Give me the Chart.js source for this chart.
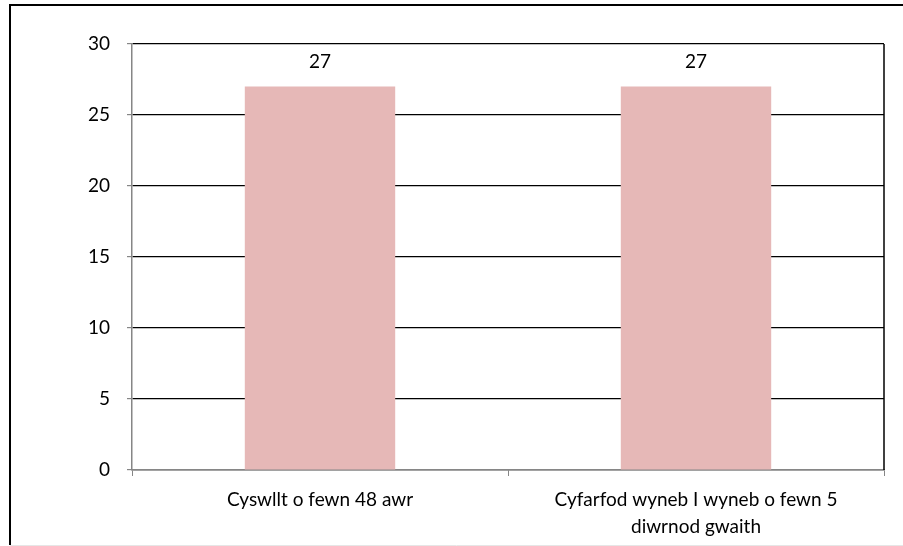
<!DOCTYPE html>
<html>
<head>
<meta charset="utf-8">
<script src="https://cdn.jsdelivr.net/npm/chart.js@4"></script>
<style>
  html, body { margin: 0; padding: 0; background: #fff; }
  #wrap { width: 903px; height: 546px; position: relative; }
</style>
</head>
<body>
<div id="wrap"><canvas id="chart" width="903" height="546"></canvas></div>
<script>
// Data
const categories = [
    ['Cyswllt o fewn 48 awr'],
    ['Cyfarfod wyneb I wyneb o fewn 5', 'diwrnod gwaith']
];
const values = [27, 27];
const yTicks = [0, 5, 10, 15, 20, 25, 30];

const FONT = 'Lato, "Open Sans", sans-serif';

// Frame around the picture + right edge of the plot area
const framePlugin = {
    id: 'frame',
    beforeDraw(chart) {
        const ctx = chart.ctx;
        ctx.save();
        ctx.fillStyle = '#fff';
        ctx.fillRect(0, 0, chart.width, chart.height);
        ctx.strokeStyle = '#000';
        ctx.lineWidth = 2;
        ctx.beginPath();
        ctx.moveTo(10, 545);
        ctx.lineTo(10, 5);
        ctx.lineTo(chart.width, 5);
        ctx.stroke();
        ctx.strokeStyle = '#e6e6e6';
        ctx.lineWidth = 1;
        ctx.beginPath();
        ctx.moveTo(10, 545.5);
        ctx.lineTo(chart.width, 545.5);
        ctx.stroke();
        ctx.restore();
    },
    afterDraw(chart) {
        const a = chart.chartArea;
        const ctx = chart.ctx;
        ctx.save();
        ctx.strokeStyle = '#000';
        ctx.lineWidth = 1.5;
        ctx.beginPath();
        ctx.moveTo(a.right, a.top);
        ctx.lineTo(a.right, a.bottom);
        ctx.stroke();
        ctx.restore();
    }
};

// Value labels above bars
const valueLabels = {
    id: 'valueLabels',
    afterDatasetsDraw(chart) {
        const ctx = chart.ctx;
        const meta = chart.getDatasetMeta(0);
        ctx.save();
        ctx.fillStyle = '#000';
        ctx.font = '19px ' + FONT;
        ctx.textAlign = 'center';
        ctx.textBaseline = 'middle';
        meta.data.forEach((bar, i) => {
            ctx.fillText(String(values[i]), bar.x, bar.y - 25);
        });
        ctx.restore();
    }
};

new Chart(document.getElementById('chart'), {
    type: 'bar',
    data: {
        labels: categories,
        datasets: [{
            data: values,
            backgroundColor: '#e6b8b7',
            borderWidth: 0,
            categoryPercentage: 1,
            barPercentage: 0.4
        }]
    },
    options: {
        responsive: false,
        animation: false,
        devicePixelRatio: 1,
        layout: { padding: { top: 44, right: 19, left: 0, bottom: 0 } },
        plugins: {
            legend: { display: false },
            tooltip: { enabled: false }
        },
        scales: {
            x: {
                offset: true,
                grid: {
                    offset: true,
                    drawOnChartArea: false,
                    color: '#868686',
                    tickLength: 6
                },
                border: { color: '#868686', width: 1.5 },
                ticks: {
                    color: '#000',
                    font: { family: FONT, size: 19, lineHeight: 1.4 },
                    padding: 11,
                    maxRotation: 0
                },
                afterFit(scale) { scale.height = 76; }
            },
            y: {
                min: 0,
                max: 30,
                afterBuildTicks(scale) {
                    scale.ticks = yTicks.map(v => ({ value: v }));
                },
                grid: {
                    color: '#000',
                    lineWidth: 1.2,
                    tickColor: '#868686',
                    tickLength: 5
                },
                border: { color: '#868686', width: 1.5 },
                ticks: {
                    color: '#000',
                    font: { family: FONT, size: 19 },
                    padding: 17
                },
                afterFit(scale) { scale.width = 132; }
            }
        }
    },
    plugins: [framePlugin, valueLabels]
});
</script>
</body>
</html>
